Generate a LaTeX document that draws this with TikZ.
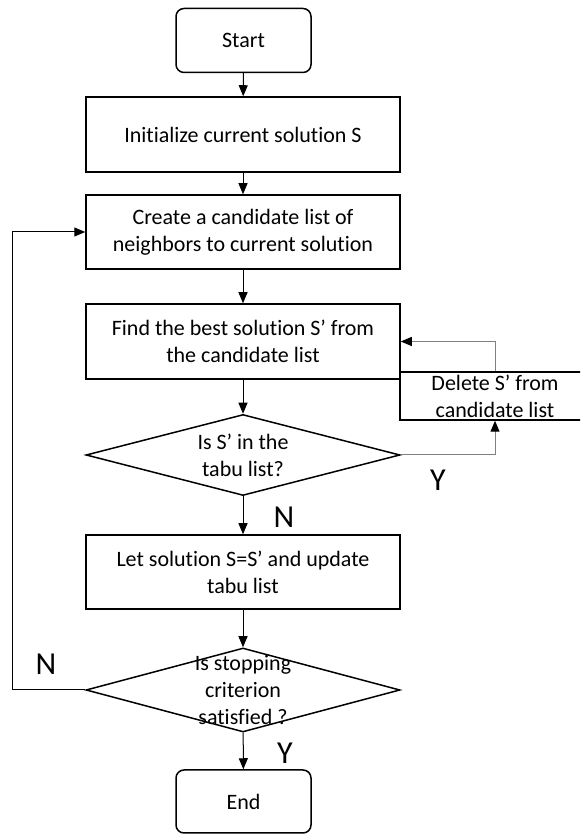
\documentclass[tikz,border=0pt]{standalone}
\usepackage{fontspec}
\setmainfont{Carlito}[Ligatures=NoCommon]
\usetikzlibrary{shapes.geometric,arrows.meta}
\begin{document}
\begin{tikzpicture}[x=0.5pt,y=0.5pt,
    every node/.style={font=\fontsize{11}{13.5}\selectfont},
    terminal/.style={draw,line width=0.75pt,rounded corners=4pt,
      minimum width=67.5pt,minimum height=32pt,inner sep=0pt},
    process/.style={draw,line width=0.75pt,minimum width=157pt,
      minimum height=37.5pt,inner sep=0pt,align=center},
    decision/.style={draw,line width=0.75pt,diamond,minimum width=157pt,
      minimum height=41pt,inner sep=0pt},
    flow/.style={-{Triangle[length=5.5pt,width=4.5pt]},line width=0.5pt},
    retry/.style={draw=black!50,line width=0.5pt,
      -{Triangle[length=5.5pt,width=4.5pt,color=black]}},
    answer/.style={font=\fontsize{16}{19}\selectfont,inner sep=0pt}]

  % Frame of the page
  \useasboundingbox (0,0) rectangle (580,834);
  \clip (0,0) rectangle (580,834);

  % Steps
  \node[terminal] (start) at (243.5,793.5) {Start};
  \node[process] (init) at (243,699.5) {Initialize current solution S};
  \node[process,minimum height=37pt] (cand) at (243,602)
    {Create a candidate list of\\neighbors to current solution};
  \node[process] (best) at (243,492.5)
    {Find the best solution S’ from\\the candidate list};
  \node[draw,line width=0.75pt,minimum width=95pt,minimum height=24pt,
    inner sep=0pt,align=center] (del) at (495,438)
    {Delete S’ from\\candidate list};
  \node[decision,minimum height=40.5pt] (tabu) at (243,379) {};
  \node[align=center] (tabutext) at (tabu.center) {Is S’ in the\\tabu list?};
  \node[process,minimum height=37pt] (upd) at (243,262)
    {Let solution S=S’ and update\\tabu list};
  \node[decision,minimum height=42pt] (stop) at (243,144) {};
  \node[align=center] (stoptext) at (stop.center)
    {Is stopping\\criterion\\satisfied ?};
  \node[terminal,minimum height=31.5pt] (end) at (243.5,32.5) {End};

  % Answers
  \node[answer] (tabuyes) at (438,354) {Y};
  \node[answer] (tabuno) at (284,317) {N};
  \node[answer] (stopno) at (46,170) {N};
  \node[answer] (stopyes) at (285,81) {Y};

  % Connectors
  \draw[flow] (start) -- (init);
  \draw[flow] (init) -- (cand);
  \draw[flow] (cand) -- (best);
  \draw[flow] (best) -- (tabu);
  \draw[flow] (tabu) -- (upd);
  \draw[flow] (upd) -- (stop);
  \draw[flow] (stop) -- (end);
  \draw[flow] (stop.west) -| (12,602) -- (cand.west);
  \draw[retry] (tabu.east) -| (del.south);
  \draw[retry] (del.north) |- (best.east);
\end{tikzpicture}
\end{document}
